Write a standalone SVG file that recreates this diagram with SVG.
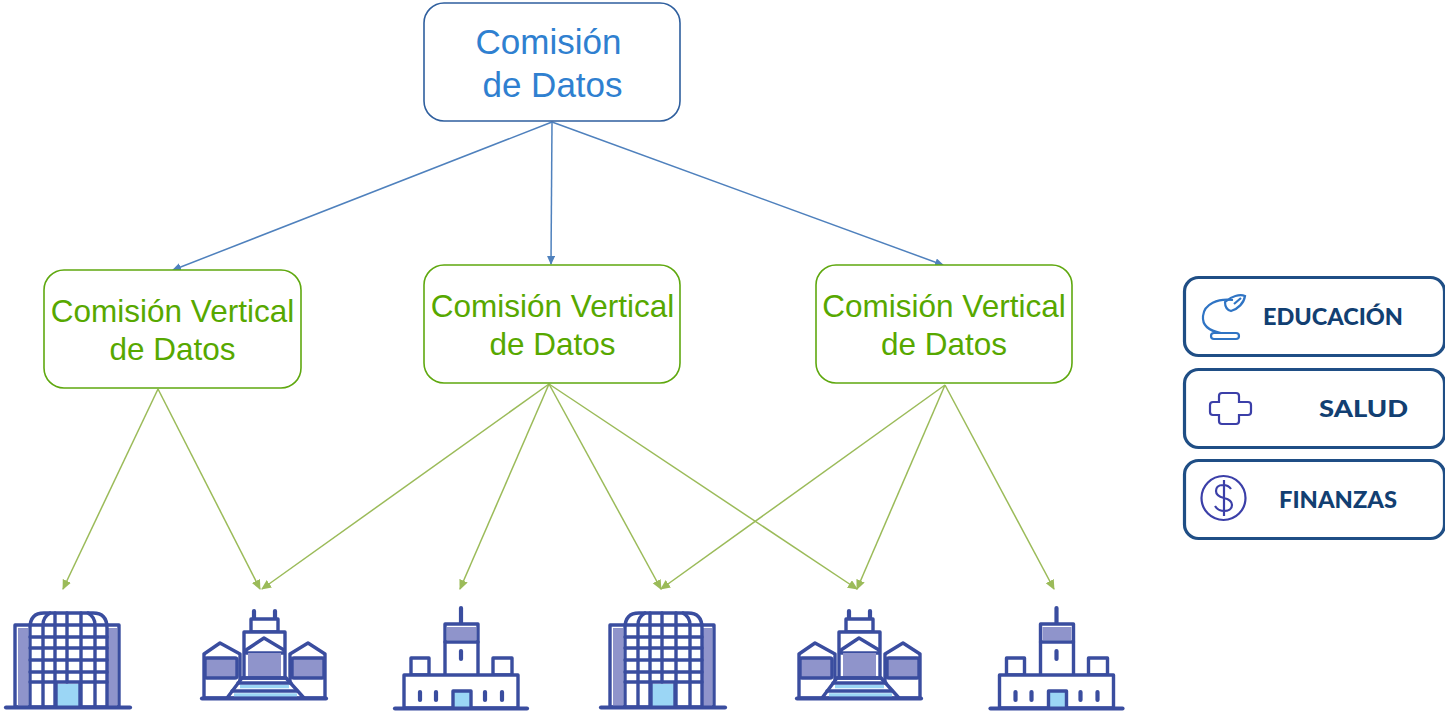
<svg xmlns="http://www.w3.org/2000/svg" width="1445" height="714" viewBox="0 0 1445 714">
<style>
.box{fill:#fff;stroke-width:1.6}
.top{stroke:#2f5f9e}
.mid{stroke:#5fa80f}
.t{font-family:"Liberation Sans",Arial,sans-serif;text-anchor:middle}
.tt{fill:#2f80d0;font-size:35px}
.tm{fill:#57a800;font-size:31.5px}
.blue{stroke:#4f81bd;stroke-width:1.5;fill:none;marker-end:url(#ab)}
.green{stroke:#9bbb59;stroke-width:1.5;fill:none;marker-end:url(#ag)}
.leg{fill:#fff;stroke:#1f4e85;stroke-width:3.2}
.lt{font-family:"Lato","Liberation Sans",sans-serif;font-weight:900;font-size:23px;fill:#123f72;text-anchor:start}
.ln{fill:none;stroke:#3a4d9f;stroke-width:3.4;stroke-linecap:round;stroke-linejoin:round}
.lf{fill:#fff;stroke:#3a4d9f;stroke-width:3.4;stroke-linejoin:round;stroke-linecap:round}
.hv{stroke-width:4.2}
.pf{fill:#8f94cb}
.cf{fill:#9bd6f5}
.ic{fill:none;stroke-width:2.2}
</style>
<defs>
<marker id="ab" markerWidth="10" markerHeight="10" refX="8" refY="4" orient="auto" markerUnits="userSpaceOnUse"><path d="M0 0L9 4L0 8Z" fill="#4f81bd"/></marker>
<marker id="ag" markerWidth="12" markerHeight="10" refX="9" refY="4.5" orient="auto" markerUnits="userSpaceOnUse"><path d="M0 0L10 4.5L0 9Z" fill="#9bbb59"/></marker>
<g id="office">
<rect class="lf" x="15" y="625" width="104" height="82"/>
<rect class="pf" x="18" y="628" width="10" height="78"/>
<rect class="pf" x="107" y="628" width="10" height="78"/>
<path class="lf" d="M30 707V628Q30 613 44 613H93Q107 613 107 628V707Z"/>
<path class="ln" d="M30 625H107M30 637H107M30 648H107M30 660H107M30 672H107M30 682H107"/>
<path class="ln" d="M43 707V625Q43 617 50 613M55 707V613M67 682V613M81 707V613M95 707V625Q95 617 88 613"/>
<rect class="cf" x="56" y="684" width="24" height="22"/>
<path class="ln" d="M56 683V707M80 683V707"/>
<path class="ln hv" d="M6 707.500H130"/>
</g>
<g id="palace">
<path class="ln hv" d="M254 611V619M275 611V619"/>
<rect class="lf" x="251" y="619" width="27" height="13"/>
<rect class="lf" x="244" y="632" width="41" height="66"/>
<path class="lf" d="M246 650L264 638L284 650V653H246Z"/>
<rect class="pf" x="248" y="653" width="33" height="25"/>
<path class="lf" d="M204 698V654L220 643L240 654V698Z"/>
<path class="lf" d="M325 698V654L308 643L290 654V698Z"/>
<rect class="lf pf" x="205" y="658" width="32" height="20" rx="2" style="fill:#8f94cb"/>
<rect class="lf pf" x="292" y="658" width="32" height="20" rx="2" style="fill:#8f94cb"/>
<path class="lf" d="M242 678H286L304 698H227Z"/>
<path d="M240 686.500H289M234 695H297" stroke="#9bd6f5" stroke-width="3.500" fill="none"/>
<path class="ln" d="M242 678H286"/>
<path class="ln" d="M238 683H291M232 691H297"/>
<path class="ln hv" d="M202 698.500H326"/>
</g>
<g id="castle">
<path class="ln hv" d="M461 608V624"/>
<rect class="lf" x="445" y="624" width="33" height="52"/>
<rect class="pf" x="447" y="627" width="29" height="13"/>
<path class="ln" d="M445 642H478"/>
<path class="ln hv" d="M461 651V659"/>
<rect class="lf" x="411" y="658" width="18" height="17"/>
<rect class="lf" x="493" y="658" width="19" height="17"/>
<path class="lf" d="M404 708V675H518V708Z"/>
<rect class="cf" x="453" y="692" width="18" height="16"/>
<path class="ln" d="M453 708V691H471V708"/>
<path class="ln hv" d="M420 692V700M436 692V700M485 692V700M502 692V700"/>
<path class="ln hv" d="M395 708.500H527"/>
</g>
</defs>
<g id="connectors">
<path class="blue" d="M552 122L173 270"/>
<path class="blue" d="M552 122L551 264"/>
<path class="blue" d="M552 122L943 265"/>
<path class="green" d="M158 389L63 589"/>
<path class="green" d="M158 389L260 589"/>
<path class="green" d="M549 384L262 589"/>
<path class="green" d="M549 384L460 589"/>
<path class="green" d="M549 384L661 589"/>
<path class="green" d="M549 384L857 589"/>
<path class="green" d="M945 385L661 589"/>
<path class="green" d="M945 385L857 589"/>
<path class="green" d="M945 385L1054 589"/>
</g>
<g id="node-top"><rect class="box top" x="424" y="3" width="256" height="118" rx="20"/><text class="t tt" x="548.500" y="54">Comisión</text><text class="t tt" x="552.500" y="97">de Datos</text></g>
<g id="node-v1"><rect class="box mid" x="44" y="270" width="257" height="118" rx="20"/><text class="t tm" x="172.500" y="322">Comisión Vertical</text><text class="t tm" x="172.500" y="360">de Datos</text></g>
<g id="node-v2"><rect class="box mid" x="424" y="265" width="256" height="118" rx="20"/><text class="t tm" x="552.500" y="317">Comisión Vertical</text><text class="t tm" x="552.500" y="355">de Datos</text></g>
<g id="node-v3"><rect class="box mid" x="816" y="265" width="256" height="118" rx="20"/><text class="t tm" x="944" y="317">Comisión Vertical</text><text class="t tm" x="944" y="355">de Datos</text></g>
<g id="inst-1"><use href="#office"/></g>
<g id="inst-2"><use href="#palace"/></g>
<g id="inst-3"><use href="#castle"/></g>
<g id="inst-4"><use href="#office" x="595"/></g>
<g id="inst-5"><use href="#palace" x="595"/></g>
<g id="inst-6"><use href="#castle" x="595.500"/></g>
<g id="legend-educacion"><rect class="leg" x="1184.500" y="277.500" width="260" height="78" rx="14"/>
<path class="ic" d="M1233 300C1218 298 1204 304 1203 316C1202 326 1210 331 1221 333" stroke="#2f74c4"/>
<rect class="ic" x="1211" y="333" width="28" height="6" rx="3" stroke="#2f74c4"/>
<path class="ic" d="M1225 302C1231 296 1240 294 1245 296C1244 303 1238 309 1231 311C1227 310 1225 306 1225 302ZM1234 304L1241 298" stroke="#2f74c4"/>
<text class="lt" x="1263" y="325" textLength="140" lengthAdjust="spacingAndGlyphs">EDUCACIÓN</text></g>
<g id="legend-salud"><rect class="leg" x="1184.500" y="369.500" width="260" height="78" rx="14"/>
<path class="ic" d="M1222 393H1236Q1239 393 1239 396V402H1248Q1251 402 1251 405V412Q1251 415 1248 415H1239V421Q1239 424 1236 424H1222Q1219 424 1219 421V415H1213Q1210 415 1210 412V405Q1210 402 1213 402H1219V396Q1219 393 1222 393Z" stroke="#3b3fa8"/>
<text class="lt" x="1319" y="417" textLength="89" lengthAdjust="spacingAndGlyphs">SALUD</text></g>
<g id="legend-finanzas"><rect class="leg" x="1184.500" y="460.500" width="260" height="78" rx="14"/>
<circle class="ic" cx="1223.500" cy="498" r="22" stroke="#3b3fa8"/>
<path class="ic" d="M1231 489C1229 486 1226 485 1223 485C1218 485 1216 488 1216 491C1216 495 1220 497 1224 498C1228 499 1232 501 1232 505C1232 509 1228 511 1224 511C1220 511 1217 509 1215 506M1224 480V516" stroke="#3b3fa8"/>
<text class="lt" x="1279" y="508" textLength="118" lengthAdjust="spacingAndGlyphs">FINANZAS</text></g>
</svg>
